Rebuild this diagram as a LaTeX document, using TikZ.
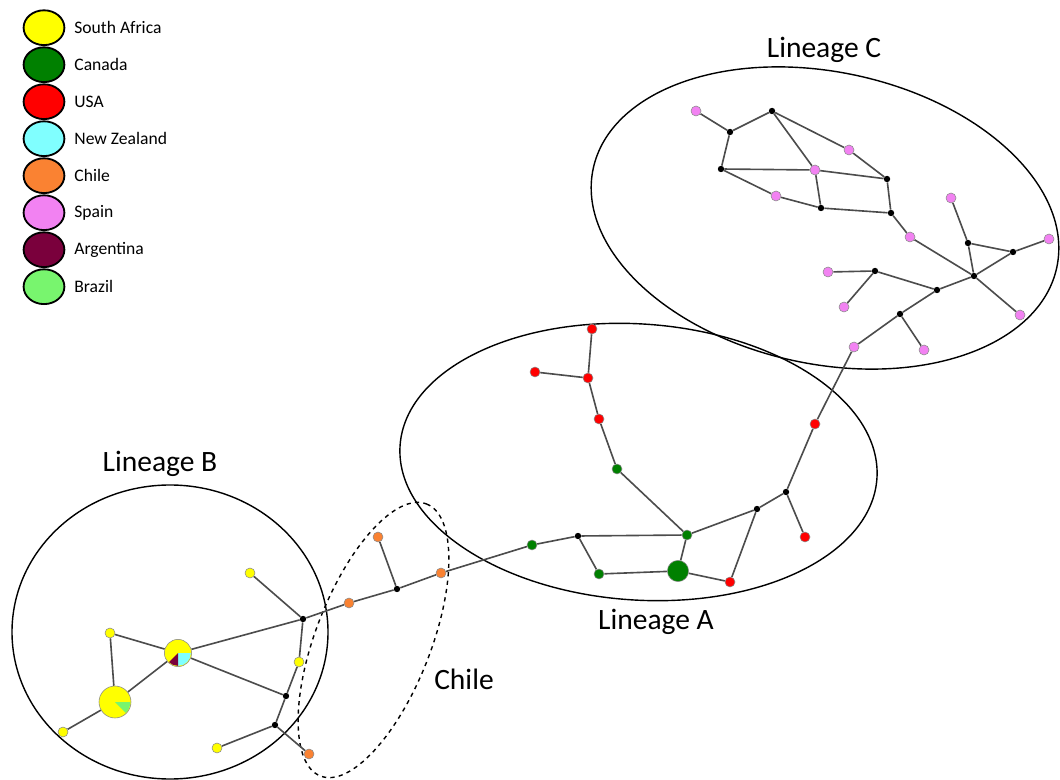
\documentclass[tikz,border=0pt]{standalone}
\usepackage{fontspec}
\setmainfont{Carlito}
\usetikzlibrary{shapes.geometric,positioning,backgrounds}
\definecolor{safrica}{RGB}{255, 255, 0}
\definecolor{canada}{RGB}{0, 128, 0}
\definecolor{usa}{RGB}{255, 0, 0}
\definecolor{nz}{RGB}{128, 255, 255}
\definecolor{chile}{RGB}{250, 130, 50}
\definecolor{spain}{RGB}{242, 130, 242}
\definecolor{argentina}{RGB}{122, 0, 60}
\definecolor{brazil}{RGB}{120, 245, 110}

\begin{document}
\begin{tikzpicture}[x=0.025cm, y=-0.025cm,
    hap/.style={circle, draw=black!45, line width=0.4pt, inner sep=0pt, minimum size=0.25cm},
    mv/.style={circle, fill=black, inner sep=0pt, minimum size=0.16cm},
    edge/.style={draw=black!70, line width=1.15pt},
    lineage/.style={draw=black, line width=1pt},
    legdot/.style={ellipse, draw=black, line width=1.3pt, minimum width=1.02cm, minimum height=0.87cm, inner sep=0pt},
    legtext/.style={font=\fontsize{12.5}{15}\selectfont, inner sep=0pt},
    grouplabel/.style={font=\fontsize{21}{25}\selectfont, anchor=base, inner sep=0pt}]
    \useasboundingbox (0,0) rectangle (1060,780);

    % Legend
    \foreach \cname/\ccol [count=\i from 0] in {South Africa/safrica, Canada/canada, USA/usa, New Zealand/nz, Chile/chile, Spain/spain, Argentina/argentina, Brazil/brazil} {
        \node[legdot, fill=\ccol] (leg\i) at (44, 27.7+37*\i) {};
        \node[legtext, right=0.22cm of leg\i] (legtxt\i) {\cname};
    }

    % Lineage C
    \node[hap, fill=spain] (cs1) at (696,111) {};
    \node[mv] (cj1) at (772,111) {};
    \node[mv] (cj2) at (730,132) {};
    \node[hap, fill=spain] (cs2) at (849,150) {};
    \node[mv] (cj3) at (721,169) {};
    \node[hap, fill=spain] (cs3) at (815,170) {};
    \node[mv] (cj4) at (887,179) {};
    \node[hap, fill=spain] (cs4) at (776,196) {};
    \node[mv] (cj5) at (821,208) {};
    \node[mv] (cj6) at (891,213) {};
    \node[hap, fill=spain] (cs5) at (951,198) {};
    \node[hap, fill=spain] (cs6) at (910,237) {};
    \node[mv] (cj7) at (968,243) {};
    \node[mv] (cj8) at (1013,252) {};
    \node[hap, fill=spain] (cs7) at (1049,239) {};
    \node[mv] (cj9) at (974,276) {};
    \node[hap, fill=spain] (cs8) at (828,272) {};
    \node[mv] (cj10) at (875,271) {};
    \node[mv] (cj11) at (937,290) {};
    \node[hap, fill=spain] (cs9) at (844,307) {};
    \node[hap, fill=spain] (cs10) at (1020,315) {};
    \node[mv] (cj12) at (900,314) {};
    \node[hap, fill=spain] (cs11) at (924,350) {};
    \node[hap, fill=spain] (cs12) at (854,347) {};

    % Lineage A
    \node[hap, fill=usa] (au1) at (592,329) {};
    \node[hap, fill=usa] (au2) at (535,372) {};
    \node[hap, fill=usa] (au3) at (588,378) {};
    \node[hap, fill=usa] (au4) at (599,419) {};
    \node[hap, fill=canada] (ac1) at (617,469) {};
    \node[hap, fill=usa] (au5) at (815,424) {};
    \node[mv] (aj1) at (786,492) {};
    \node[mv] (aj2) at (757,509) {};
    \node[hap, fill=usa] (au6) at (805,537) {};
    \node[hap, fill=canada] (ac2) at (687,535) {};
    \node[mv] (aj3) at (578,536) {};
    \node[hap, fill=canada] (ac3) at (532,545) {};
    \node[hap, fill=canada, minimum size=0.53cm] (ac4) at (678,571) {};
    \node[hap, fill=canada] (ac5) at (599,574) {};
    \node[hap, fill=usa] (au7) at (730,582) {};

    % Chile
    \node[hap, fill=chile] (ho1) at (441,573) {};
    \node[hap, fill=chile] (ho2) at (378,537) {};
    \node[mv] (hj1) at (397,589) {};
    \node[hap, fill=chile] (ho3) at (349,603) {};
    \node[hap, fill=chile] (ho4) at (309,754) {};

    % Lineage B
    \node[mv] (bj1) at (303,619) {};
    \node[hap, fill=safrica] (by1) at (250,573) {};
    \node[hap, fill=safrica] (by2) at (110,633) {};
    \node[hap, fill=safrica, minimum size=0.68cm] (bp1) at (178,653) {};
    \node[hap, fill=safrica] (by3) at (299,662) {};
    \node[mv] (bj2) at (286,696) {};
    \node[hap, fill=safrica, minimum size=0.8cm] (bp2) at (115,702) {};
    \node[mv] (bj3) at (275,725) {};
    \node[hap, fill=safrica] (by4) at (63,732) {};
    \node[hap, fill=safrica] (by5) at (217,748) {};

    % pie slices
    \fill[nz] (bp1.center) -- ++(0:12.8) arc[start angle=0, end angle=90, radius=12.8] -- cycle;
    \fill[argentina] (bp1.center) -- ++(90:12.8) arc[start angle=90, end angle=135, radius=12.8] -- cycle;
    \fill[brazil] (bp2.center) -- ++(0:15.3) arc[start angle=0, end angle=45, radius=15.3] -- cycle;

    % Group labels
    \node[grouplabel] (labC) at (824,58) {Lineage C};
    \node[grouplabel] (labB) at (160,472) {Lineage B};
    \node[grouplabel] (labA) at (656,629) {Lineage A};
    \node[grouplabel] (labChile) at (464,689) {Chile};

    \begin{scope}[on background layer]
        % Group outlines
        \draw[lineage, rotate around={-12:(825,218)}] (825,218) ellipse [x radius=237, y radius=146];
        \draw[lineage, rotate around={-4:(638.5,462)}] (638.5,462) ellipse [x radius=239, y radius=138];
        \draw[lineage] (170,632) ellipse [x radius=158, y radius=147];
        \draw[lineage, dashed, rotate around={68.7:(373.5,640)}] (373.5,640) ellipse [x radius=146, y radius=57.5];

        % Network edges
        \foreach \u/\v in {cs1/cj2, cj2/cj1, cj2/cj3, cj1/cs3, cj1/cs2, cs2/cj4, cj3/cs3, cs3/cj4,
            cj3/cs4, cs3/cj5, cs4/cj5, cj5/cj6, cj4/cj6, cj6/cs6, cs6/cj9, cs5/cj7, cj7/cj9,
            cj7/cj8, cj8/cs7, cj8/cj9, cj9/cs10, cj9/cj11, cj11/cj10, cj10/cs8, cj10/cs9,
            cj11/cj12, cj12/cs11, cj12/cs12, cs12/au5,
            au1/au3, au2/au3, au3/au4, au4/ac1, ac1/ac2, ac2/ac4, ac2/aj2, aj2/aj1, aj1/au5,
            aj1/au6, aj2/au7, ac4/au7, ac4/ac5, ac5/aj3, aj3/ac2, aj3/ac3, ac3/ho1,
            ho1/hj1, hj1/ho2, hj1/ho3, ho3/bj1,
            by1/bj1, bj1/bp1, bj1/by3, by3/bj2, bp1/bj2, bp1/by2, by2/bp2, bp1/bp2, bp2/by4,
            bj2/bj3, bj3/by5, bj3/ho4}
            \draw[edge] (\u) -- (\v);
    \end{scope}
\end{tikzpicture}
\end{document}
